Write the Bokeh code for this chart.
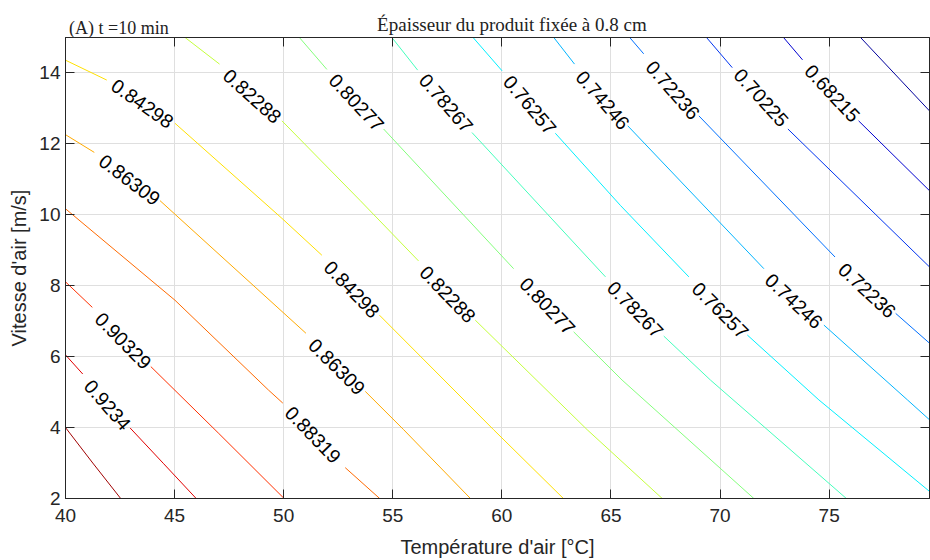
import math
from bokeh.plotting import figure
from bokeh.layouts import column
from bokeh.models import LinearAxis, FixedTicker, ColumnDataSource, Range1d
from bokeh.core.properties import value
from bokeh.embed import file_html
from bokeh.resources import INLINE

# ---------------- data ----------------
x_ticks = [40, 45, 50, 55, 60, 65, 70, 75]
y_ticks = [2, 4, 6, 8, 10, 12, 14]

level_values = [0.94350, 0.92340, 0.90329, 0.88319, 0.86309, 0.84298, 0.82288,
                0.80277, 0.78267, 0.76257, 0.74246, 0.72236, 0.70225, 0.68215, 0.66204]
level_colors = ["#a00000", "#e00000", "#ff3000", "#ff6a00", "#ffaa00", "#ffe000",
                "#c4ff3c", "#84ff7c", "#44ffbc", "#00f0ff", "#00b4ff", "#0070ff",
                "#0034f0", "#0000d0", "#00009c"]

# contour paths (temperature, air speed), split where the inline labels sit
c_094350 = [[(40.0, 4.0), (41.25, 3.0), (42.53, 2.0)]]
c_092340 = [[(40.0, 6.05), (40.79, 5.51)],
            [(42.96, 3.99), (44.5, 2.98), (45.99, 2.0)]]
c_090329 = [[(40.0, 8.11), (41.23, 7.39)],
            [(43.91, 5.72), (47.0, 3.85), (50.02, 2.0)]]
c_088319 = [[(40.0, 10.17), (45.02, 7.59), (49.3, 5.06), (49.96, 4.69)],
            [(52.82, 2.87), (54.4, 2.0)]]
c_086309 = [[(40.0, 12.26), (41.32, 11.76)],
            [(44.33, 10.40), (51.02, 6.66)],
            [(53.74, 5.02), (55.5, 3.94), (58.56, 2.0)]]
c_084298 = [[(40.0, 14.36), (41.89, 13.80)],
            [(45.02, 12.58), (49.92, 9.90), (51.75, 8.86)],
            [(54.39, 7.17), (59.62, 3.94), (62.82, 2.0)]]
c_082288 = [[(45.48, 15.0), (47.06, 14.25)],
            [(49.92, 12.65), (53.51, 10.40), (56.18, 8.70)],
            [(58.78, 7.03), (63.91, 3.94), (67.35, 2.0)]]
c_080277 = [[(50.72, 15.0), (51.98, 14.10)],
            [(54.58, 12.42), (60.54, 8.48)],
            [(63.29, 6.70), (65.51, 5.34), (71.55, 2.0)]]
c_078267 = [[(54.96, 15.0), (56.14, 14.08)],
            [(58.63, 12.32), (64.75, 8.25)],
            [(67.42, 6.58), (69.56, 5.34), (75.79, 2.0)]]
c_076257 = [[(58.68, 15.0), (60.01, 14.06)],
            [(62.45, 12.30), (65.44, 10.26), (68.57, 8.25)],
            [(71.25, 6.61), (74.53, 4.78), (79.6, 2.2)]]
c_074246 = [[(62.38, 15.0), (63.33, 14.25)],
            [(65.77, 12.51), (72.01, 8.48)],
            [(74.76, 6.89), (78.59, 4.78), (79.6, 4.22)]]
c_072236 = [[(65.86, 15.0), (66.5, 14.54)],
            [(69.03, 12.79), (75.27, 8.81)],
            [(78.05, 7.22), (79.6, 6.38)]]
c_070225 = [[(69.38, 15.0), (70.56, 14.15)],
            [(73.11, 12.42), (79.6, 8.53)]]
c_068215 = [[(72.91, 15.0), (73.78, 14.37)],
            [(76.35, 12.65), (79.6, 10.68)]]
c_066204 = [[(76.44, 15.0), (79.6, 12.93)]]

label_text = ["0.84298", "0.82288", "0.80277", "0.78267", "0.76257", "0.74246", "0.72236",
              "0.70225", "0.68215", "0.86309", "0.90329", "0.9234", "0.84298", "0.82288",
              "0.80277", "0.78267", "0.76257", "0.74246", "0.72236", "0.86309", "0.88319"]
label_x = [43.53, 48.56, 53.34, 57.45, 61.29, 64.63, 67.84, 71.89, 75.15, 42.94, 42.65,
           41.93, 53.13, 57.52, 62.10, 66.12, 70.02, 73.39, 76.75, 52.44, 51.35]
label_y = [13.14, 13.35, 13.17, 13.15, 13.10, 13.24, 13.52, 13.31, 13.43, 10.99, 6.45,
           4.64, 7.90, 7.76, 7.43, 7.33, 7.31, 7.57, 7.87, 5.72, 3.80]
label_angle_deg = [35, 42, 47, 49, 50, 49, 49, 48, 47, 37, 45.5, 49, 46, 46, 46.5, 45.5,
                   45, 43, 43, 44.6, 46]

title_text = "Épaisseur du produit fixée à 0.8 cm"
panel_text = "(A) t =10 min"

x_start, x_end = 40, 79.6
y_start, y_end = 2, 15

AX = "#262626"
W = 930
HEAD_H = 37
MAIN_H = 523

xr = Range1d(x_start, x_end)

# ---------------- header strip (titles) ----------------
head = figure(width=W, height=HEAD_H, x_range=xr, y_range=(0, HEAD_H),
              output_backend="svg", toolbar_location=None,
              x_axis_location=None, y_axis_location=None,
              min_border_left=65, min_border_right=1, min_border_top=0, min_border_bottom=0)
head.grid.visible = False
head.outline_line_color = None
head.background_fill_color = "white"
head.border_fill_color = "white"
head.text(x=[60.46], y=[13], text=[title_text], text_font=value("Liberation Serif"),
          text_font_size="19px", text_color="#222222", text_align="center",
          text_baseline="alphabetic")
head.text(x=[40.16], y=[10], text=[panel_text], text_font=value("Liberation Serif"),
          text_font_size="18px", text_color="#222222", text_align="left",
          text_baseline="alphabetic")

# ---------------- main contour plot ----------------
p = figure(width=W, height=MAIN_H, x_range=xr, y_range=(y_start, y_end),
           output_backend="svg", toolbar_location=None,
           min_border_left=65, min_border_right=1, min_border_top=0, min_border_bottom=61)
p.background_fill_color = "white"
p.border_fill_color = "white"
p.outline_line_color = AX

for ax, ticks in ((p.xaxis, x_ticks), (p.yaxis, y_ticks)):
    ax.ticker = FixedTicker(ticks=ticks)
    ax.major_tick_in = 9
    ax.major_tick_out = 0
    ax.minor_tick_in = 0
    ax.minor_tick_out = 0
    ax.axis_line_color = AX
    ax.major_tick_line_color = AX
    ax.major_label_text_font = "Liberation Sans"
    ax.major_label_text_font_size = "19px"
    ax.major_label_text_color = AX
    ax.axis_label_text_font = "Liberation Sans"
    ax.axis_label_text_font_size = "20px"
    ax.axis_label_text_font_style = "normal"
    ax.axis_label_text_color = AX

p.xaxis.axis_label = "Température d'air [°C]"
p.yaxis.axis_label = "Vitesse d'air [m/s]"
p.xaxis.major_label_standoff = 10
p.xaxis.axis_label_standoff = 11
p.yaxis.major_label_standoff = 5
p.yaxis.axis_label_standoff = 6

for side, ticks in (("above", x_ticks), ("right", y_ticks)):
    a = LinearAxis(ticker=FixedTicker(ticks=ticks), major_label_text_font_size="0px",
                   major_label_standoff=0, major_tick_in=9, major_tick_out=0,
                   minor_tick_in=0, minor_tick_out=0, axis_line_color=AX,
                   major_tick_line_color=AX)
    p.add_layout(a, side)

p.xgrid.ticker = FixedTicker(ticks=x_ticks)
p.ygrid.ticker = FixedTicker(ticks=y_ticks)
p.grid.grid_line_color = "#dfdfdf"
p.grid.grid_line_width = 1

contours = [c_094350, c_092340, c_090329, c_088319, c_086309, c_084298, c_082288,
            c_080277, c_078267, c_076257, c_074246, c_072236, c_070225, c_068215, c_066204]
for segs, col in zip(contours, level_colors):
    xs, ys = [], []
    for seg in segs:
        if xs:
            xs.append(float("nan"))
            ys.append(float("nan"))
        xs += [pt[0] for pt in seg]
        ys += [pt[1] for pt in seg]
    p.line(xs, ys, line_color=col, line_width=1)

src = ColumnDataSource(dict(x=label_x, y=label_y, text=label_text,
                            angle=[-a * math.pi / 180 for a in label_angle_deg]))
p.text(x="x", y="y", text="text", angle="angle", source=src,
       text_font=value("Liberation Sans"), text_font_size="19.5px", text_color="black",
       text_align="center", text_baseline="middle")

layout = column(head, p, spacing=0)
open("out.html", "w").write(file_html(layout, INLINE))
